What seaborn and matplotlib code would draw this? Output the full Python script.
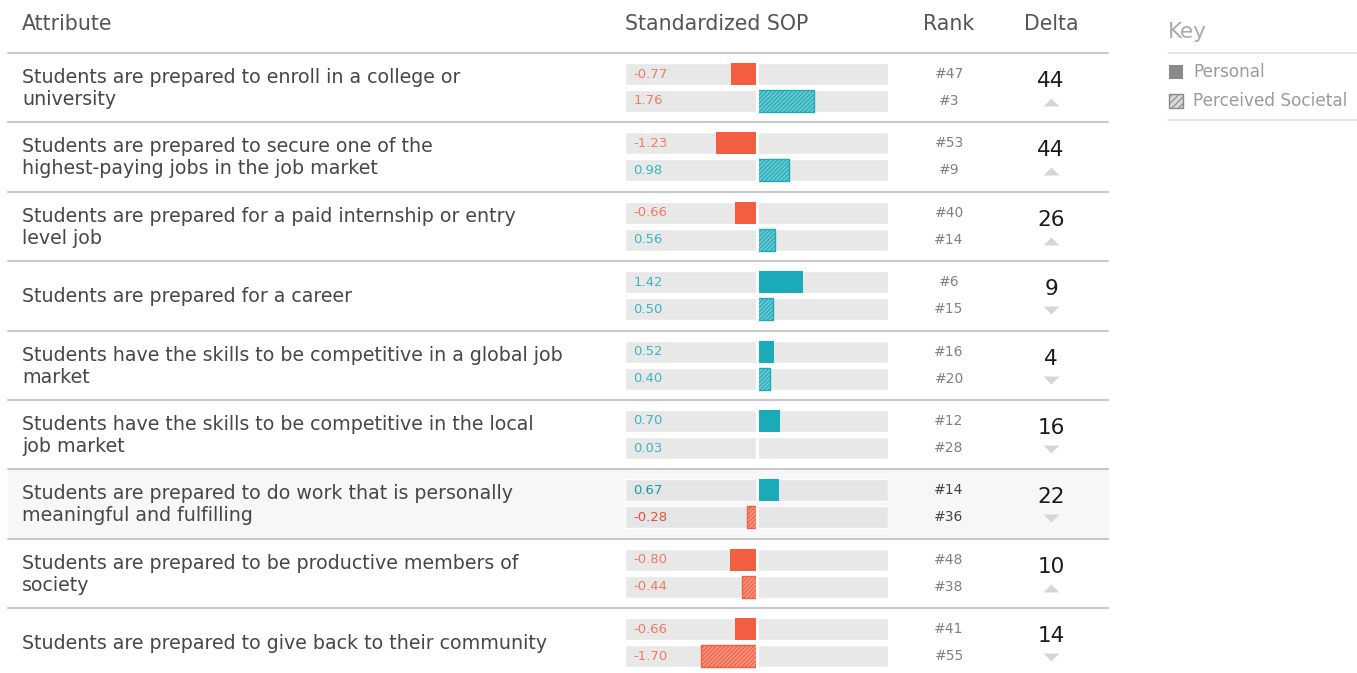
import numpy as np
import pandas as pd
import matplotlib
matplotlib.use("Agg")
import matplotlib.pyplot as plt
import seaborn as sns

# -------------------------
# Data
# -------------------------
attributes = [
    "Students are prepared to enroll in a college or\nuniversity",
    "Students are prepared to secure one of the\nhighest-paying jobs in the job market",
    "Students are prepared for a paid internship or entry\nlevel job",
    "Students are prepared for a career",
    "Students have the skills to be competitive in a global job\nmarket",
    "Students have the skills to be competitive in the local\njob market",
    "Students are prepared to do work that is personally\nmeaningful and fulfilling",
    "Students are prepared to be productive members of\nsociety",
    "Students are prepared to give back to their community",
]
personal = [-0.77, -1.23, -0.66, 1.42, 0.52, 0.70, 0.67, -0.80, -0.66]
societal = [1.76, 0.98, 0.56, 0.50, 0.40, 0.03, -0.28, -0.44, -1.70]
personal_rank = [47, 53, 40, 6, 16, 12, 14, 48, 41]
societal_rank = [3, 9, 14, 15, 20, 28, 36, 38, 55]
delta = [44, 44, 26, 9, 4, 16, 22, 10, 14]
delta_up = [True, True, True, False, False, False, False, True, False]
kinds = ["Personal", "Perceived Societal"]
highlight_row = 6

# -------------------------
# Style
# -------------------------
sns.set_theme(style="white")
plt.rcParams["font.family"] = ["DejaVu Sans"]
plt.rcParams["hatch.linewidth"] = 0.8

RED = "#f45e40"
RED_TXT = "#f07a64"
TEAL = "#1babb8"
TEAL_TXT = "#3db5c1"
TRACK = "#e8e8e8"
SEP = "#c9c9c9"
W, H = 1357, 673

# layout in pixels
X0, X1 = 625, 888          # bar track extent
GROUP_TOP = 74             # centre of first bar
GROUP_STEP = 69.4
BAR_STEP = 27
LIM = 4.0

fig = plt.figure(figsize=(W / 100, H / 100), dpi=100)
ax = fig.add_axes([0, 0, 1, 1])
ax.set_xlim(0, W)
ax.set_ylim(H, 0)
ax.axis("off")

# header
hdr = dict(fontsize=14.8, color="#555555", va="center")
ax.text(22, 24, "Attribute", ha="left", **hdr)
ax.text(625, 24, "Standardized SOP", ha="left", **hdr)
ax.text(949, 24, "Rank", ha="center", **hdr)
ax.text(1051, 24, "Delta", ha="center", **hdr)

# key
ax.text(1168, 32, "Key", fontsize=15.5, color="#aaaaaa", va="center")
ax.plot([1168, W], [53, 53], color="#e2e2e2", lw=1.2)
ax.plot([1168, W], [120, 120], color="#e2e2e2", lw=1.2)
ax.scatter([1176], [72], marker="s", s=110, color="#8a8a8a", linewidths=0)
ax.scatter([1176], [101], marker="s", s=90, facecolor="#d8d8d8",
           edgecolor="#8a8a8a", hatch="/////", linewidths=1)
ax.text(1193, 72, "Personal", fontsize=12.2, color="#9a9a9a", va="center")
ax.text(1193, 101, "Perceived Societal", fontsize=12.2, color="#9a9a9a", va="center")

up_marker = [(-1, -0.5), (1, -0.5), (0, 0.5)]
down_marker = [(-1, 0.5), (1, 0.5), (0, -0.5)]

for i, attr in enumerate(attributes):
    c = GROUP_TOP + GROUP_STEP * i
    top = c - BAR_STEP / 2 - 7.5
    mid = c + BAR_STEP / 2
    hl = i == highlight_row

    if hl:
        ax.axhspan(top, top + GROUP_STEP, xmin=8 / W, xmax=1108 / W,
                   color="#f7f7f7", zorder=0)
    ax.plot([8, 1108], [top, top], color=SEP, lw=1.5, zorder=1)

    ax.text(22, mid + 1, attr, fontsize=13.7, color="#474747", va="center",
            ha="left", linespacing=1.2)

    rank_col = "#444444" if hl else "#808080"
    ax.text(949, c, f"#{personal_rank[i]}", fontsize=10, color=rank_col,
            ha="center", va="center")
    ax.text(949, c + BAR_STEP, f"#{societal_rank[i]}", fontsize=10,
            color=rank_col, ha="center", va="center")

    ax.text(1051, mid - 6.5, str(delta[i]), fontsize=15.5, color="#1a1a1a",
            ha="center", va="center")
    ax.scatter([1051], [mid + 14.5], marker=up_marker if delta_up[i] else down_marker,
               s=130, color="#d6d6d6", linewidths=0, zorder=3)

    # bar axes for this group
    bax = fig.add_axes([X0 / W, 1 - (c + BAR_STEP + BAR_STEP / 2) / H,
                        (X1 - X0) / W, 2 * BAR_STEP / H])
    bax.set_facecolor("none")
    df = pd.DataFrame({"kind": kinds, "value": [personal[i], societal[i]]})
    sns.barplot(data=df, x="value", y="kind", orient="h", order=kinds,
                errorbar=None, width=0.815, ax=bax, zorder=2)
    for j, p in enumerate(bax.patches):
        v = df["value"].iloc[j]
        col = TEAL if v >= 0 else RED
        if j == 0:
            p.set_facecolor(col)
            p.set_edgecolor(col)
            p.set_linewidth(0)
        else:
            tint = "#6cc9d1" if v >= 0 else "#f79582"
            p.set_facecolor(tint)
            p.set_edgecolor(col)
            p.set_hatch("////////")
            p.set_linewidth(1.0)
    track = "#e4e5e6" if hl else TRACK
    bax.barh([0, 1], [-LIM, -LIM], height=0.815, color=track, zorder=1)
    bax.barh([0, 1], [LIM, LIM], height=0.815, color=track, zorder=1)
    bax.axvline(0, color="#f7f7f7" if hl else "white", lw=2.2, zorder=5)

    for j, v in enumerate(df["value"]):
        txt_col = TEAL_TXT if v >= 0 else RED_TXT
        if i == 0 and j == 1:
            txt_col = RED_TXT  # as in the source, this label is red
        if hl:
            txt_col = "#1a9aa6" if v >= 0 else "#e8503a"
        bax.text(-3.75, j, f"{v:.2f}", fontsize=9.5, color=txt_col,
                 ha="left", va="center", zorder=6)

    bax.set_xlim(-LIM, LIM)
    bax.set_ylim(1.5, -0.5)
    bax.axis("off")

fig.savefig("out.png", dpi=100)
